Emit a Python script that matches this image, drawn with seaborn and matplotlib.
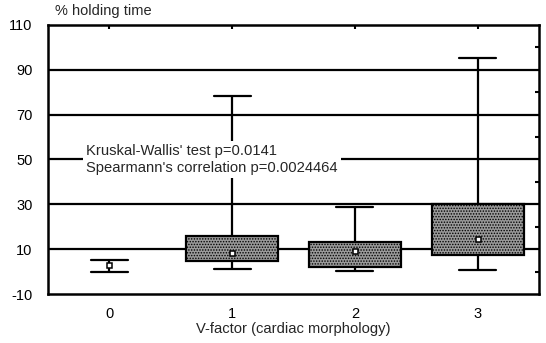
import pandas as pd
import matplotlib
matplotlib.use("Agg")
import matplotlib.pyplot as plt
from matplotlib.ticker import MultipleLocator
import seaborn as sns

# Values: [min, q1, median, q3, max] per group
categories = ["0", "1", "2", "3"]
group_0 = [0, 3, 3, 3, 5]
group_1 = [1.2, 4.7, 8.3, 15.9, 78.3]
group_2 = [0.3, 2.1, 9.2, 13.2, 28.8]
group_3 = [0.7, 7.4, 14.6, 30.2, 95.3]

y_ticks = [-10, 10, 30, 50, 70, 90, 110]
grid_levels = [10, 30, 50, 70, 90]

stats_text = "Kruskal-Wallis' test p=0.0141\nSpearmann's correlation p=0.0024464"

sns.set_theme(style="white")
plt.rcParams["font.family"] = ["Liberation Sans", "DejaVu Sans"]
plt.rcParams["hatch.linewidth"] = 0.7
plt.rcParams["axes.unicode_minus"] = False

df = pd.DataFrame({
    "group": [c for c, g in zip(categories, [group_0, group_1, group_2, group_3]) for _ in g],
    "value": group_0 + group_1 + group_2 + group_3,
})

fig = plt.figure(figsize=(5.46, 3.43), dpi=100)
ax = fig.add_axes([48 / 546, 1 - 294 / 343, 491 / 546, 269 / 343])

for lvl in grid_levels:
    ax.axhline(lvl, color="black", lw=1.6, zorder=0)

sns.boxplot(
    data=df, x="group", y="value", order=categories, ax=ax,
    whis=(0, 100), width=0.75, color="#9a9a9a", linecolor="black",
    linewidth=1.6, showfliers=False, medianprops={"visible": False},
    capwidths=0.3,
)

for p in ax.patches:
    p.set_hatch("......")
    p.set_zorder(2)
# group 0 has no visible box in the original
ax.patches[0].set_visible(False)

medians = df.groupby("group")["value"].median().reindex(categories)
ax.plot(range(len(categories)), medians.values, ls="none", marker="s", ms=3.6,
        mfc="white", mec="black", mew=1.1, zorder=5)

ax.text(-0.19, 50, stats_text, fontsize=10.6, va="center", ha="left", linespacing=1.25,
        bbox=dict(facecolor="white", edgecolor="none", pad=2.5), zorder=6)

ax.set_xlim(-0.5, 3.5)
ax.set_ylim(-10, 110)
ax.set_yticks(y_ticks)
ax.yaxis.set_minor_locator(MultipleLocator(10))
ax.tick_params(axis="both", which="both", direction="in", top=True, right=True,
               labelsize=10.5, colors="black", width=1.5)
ax.tick_params(axis="y", which="major", length=0, pad=11)
ax.tick_params(axis="y", which="minor", length=3)
ax.tick_params(axis="x", which="major", length=3, pad=9)
for s in ax.spines.values():
    s.set_color("black")
    s.set_linewidth(1.8)

ax.set_xlabel("V-factor (cardiac morphology)", fontsize=10.6, labelpad=1)
ax.set_ylabel("")
fig.text(55 / 546, 1 - 11 / 343, "% holding time", fontsize=10.5, va="center", ha="left")

fig.savefig("out.png", dpi=100)
